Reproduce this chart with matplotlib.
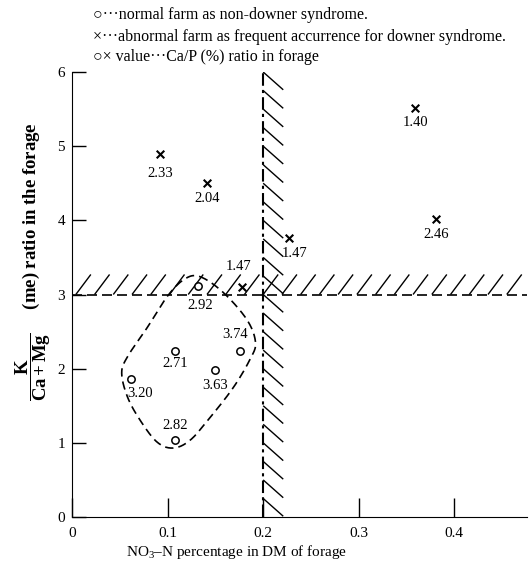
import matplotlib
matplotlib.use('Agg')
import matplotlib.pyplot as plt
import numpy as np
from matplotlib.collections import LineCollection

plt.rcParams['font.family'] = ['Liberation Serif', 'DejaVu Sans']
plt.rcParams['mathtext.fontset'] = 'custom'
plt.rcParams['mathtext.rm'] = 'Liberation Serif'
plt.rcParams['mathtext.bf'] = 'Liberation Serif:bold'
plt.rcParams['mathtext.it'] = 'Liberation Serif:italic'

# abnormal farms (x marks)
abn_x = [0.092, 0.141, 0.227, 0.359, 0.381, 0.178]
abn_y = [4.89, 4.51, 3.76, 5.51, 4.02, 3.10]
abn_lab = ['2.33', '2.04', '1.47', '1.40', '2.46', '1.47']
abn_off = [(0, -19), (0, -16), (6, -15), (0, -14), (0, -16), (-4, 21)]

# normal farms (circles)
nor_x = [0.132, 0.108, 0.062, 0.150, 0.176, 0.108]
nor_y = [3.11, 2.24, 1.86, 1.98, 2.24, 1.04]
nor_lab = ['2.92', '2.71', '3.20', '3.63', '3.74', '2.82']
nor_off = [(2, -19), (0, -13), (9, -14), (0, -15), (-5, 16), (0, 14)]

# outline drawn round the normal farms
loop_x = [0.134, 0.158, 0.183, 0.192, 0.186, 0.169, 0.145, 0.124, 0.106,
          0.089, 0.071, 0.058, 0.052, 0.058, 0.079, 0.100, 0.118]
loop_y = [3.24, 3.03, 2.66, 2.35, 2.12, 1.75, 1.35, 1.04, 0.93,
          1.01, 1.31, 1.62, 1.94, 2.16, 2.56, 2.98, 3.21]

no3_limit = 0.2
ratio_limit = 3.0


def closed_spline(px, py, n=20):
    p = np.column_stack([px, py])
    m = len(p)
    out = []
    for i in range(m):
        p0, p1, p2, p3 = p[i - 1], p[i], p[(i + 1) % m], p[(i + 2) % m]
        for t in np.linspace(0, 1, n, endpoint=False):
            t2, t3 = t * t, t * t * t
            out.append(0.5 * ((2 * p1) + (-p0 + p2) * t
                              + (2 * p0 - 5 * p1 + 4 * p2 - p3) * t2
                              + (-p0 + 3 * p1 - 3 * p2 + p3) * t3))
    out.append(out[0])
    return np.array(out)


fig = plt.figure(figsize=(5.32, 5.68), dpi=100)
ax = fig.add_axes([72 / 532, 1 - 517 / 568, 455 / 532, 445 / 568])
ax.set_xlim(0, 0.476)
ax.set_ylim(0, 6)

ax.spines['top'].set_visible(False)
ax.spines['right'].set_visible(False)
ax.set_xticks([0, 0.1, 0.2, 0.3, 0.4])
ax.set_xticklabels(['0', '0.1', '0.2', '0.3', '0.4'])
ax.set_yticks(range(7))
ax.tick_params(axis='x', direction='in', length=14, width=1, pad=7, labelsize=11)
ax.tick_params(axis='y', direction='in', length=10, width=1, pad=5, labelsize=11)

# threshold lines
ax.plot([no3_limit, no3_limit], [0, 6.03], color='black', lw=1.5,
        dashes=(6, 2, 1.5, 2), clip_on=False)
ax.axhline(ratio_limit, color='black', lw=1.2, dashes=(6, 3))

# hatching along the thresholds
segs = []
for y0 in np.arange(6.0, 0.05, -0.25):
    segs.append([(no3_limit, y0), (no3_limit + 0.021, y0 - 0.24)])
ax.add_collection(LineCollection(segs, colors='black', linewidths=1.0))
segs = []
for x0 in np.arange(0.004, 0.47, 0.0196):
    segs.append([(x0, ratio_limit), (x0 + 0.0157, ratio_limit + 0.27)])
ax.add_collection(LineCollection(segs, colors='black', linewidths=1.0))

# enclosing dashed outline
lp = closed_spline(loop_x, loop_y)
ax.plot(lp[:, 0], lp[:, 1], color='black', lw=1.2, dashes=(5, 3))

ax.scatter(abn_x, abn_y, marker='x', s=30, color='black', linewidths=1.5, zorder=3)
ax.scatter(nor_x, nor_y, marker='o', s=28, facecolors='white',
           edgecolors='black', linewidths=1.1, zorder=3)

for x, y, t, o in zip(abn_x + nor_x, abn_y + nor_y, abn_lab + nor_lab, abn_off + nor_off):
    ax.annotate(t, (x, y), xytext=o, textcoords='offset pixels',
                ha='center', va='center', fontsize=10.5)

fig.text(237 / 532, 1 - 552 / 568, 'NO$_3$–N percentage in DM of forage',
         ha='center', va='center', fontsize=11)
fig.text(33 / 532, 1 - 262 / 568,
         r'$\mathbf{\dfrac{K}{Ca+Mg}}$     (me) ratio in the forage',
         rotation=90, ha='center', va='center', fontsize=13.5, fontweight='bold')

fig.text(93 / 532, 1 - 15 / 568, '○···normal farm as non-downer syndrome.',
         ha='left', va='center', fontsize=11.5)
fig.text(93 / 532, 1 - 37 / 568,
         '×···abnormal farm as frequent accurrence for downer syndrome.',
         ha='left', va='center', fontsize=11.5)
fig.text(93 / 532, 1 - 57 / 568, '○× value···Ca/P (%) ratio in forage',
         ha='left', va='center', fontsize=11.5)

fig.savefig('out.png', dpi=100)
